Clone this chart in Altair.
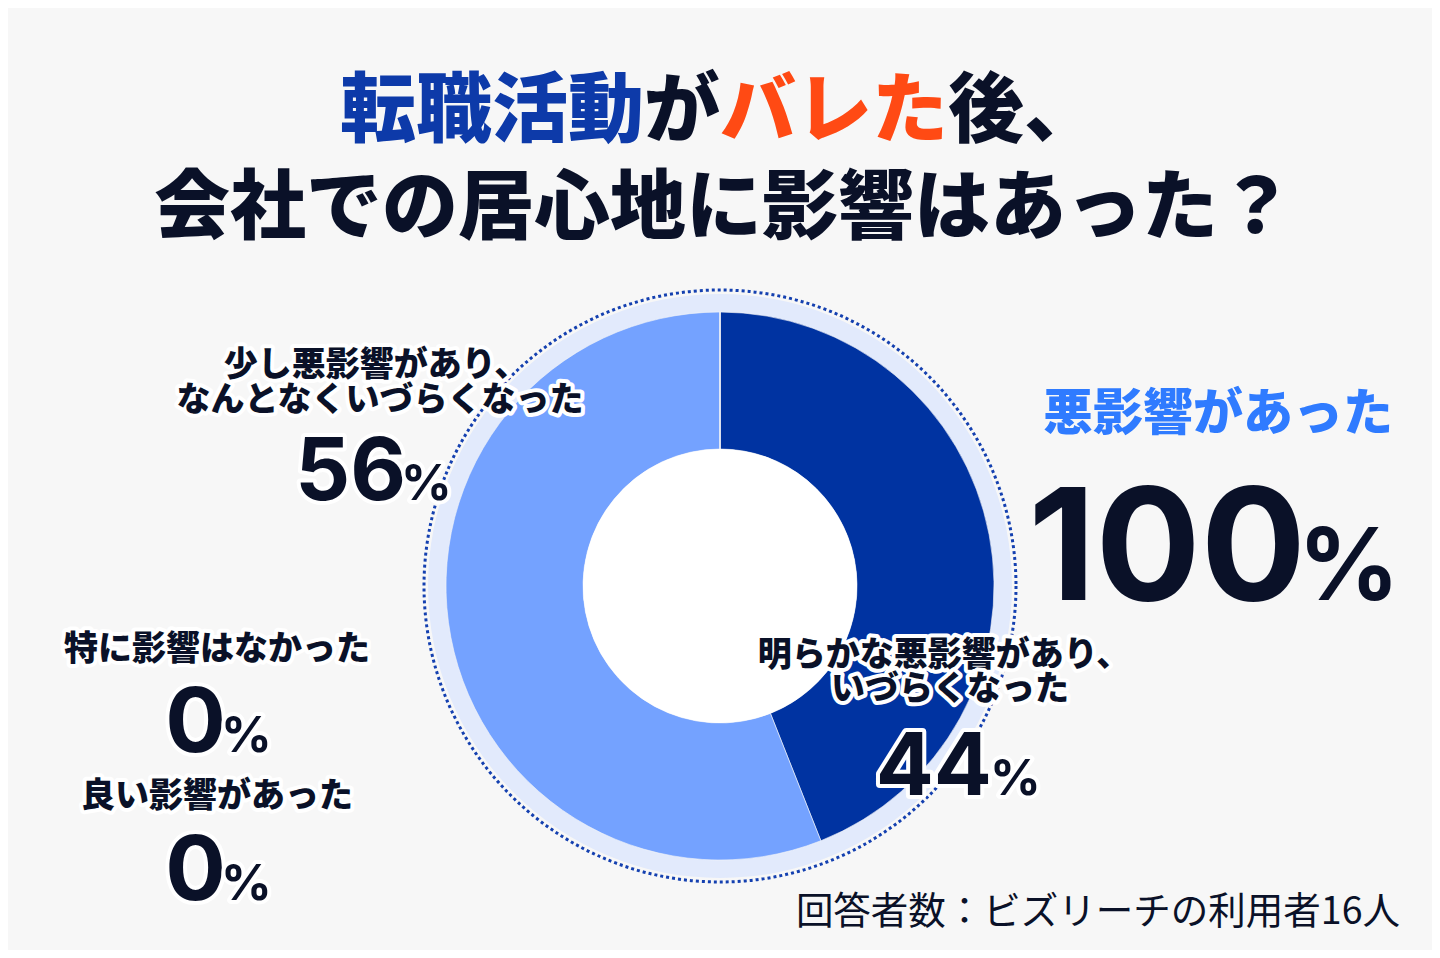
import math
import altair as alt
import pandas as pd

# ---------------- data ----------------
categories = [
    "明らかな悪影響があり、いづらくなった",
    "少し悪影響があり、なんとなくいづらくなった",
    "特に影響はなかった",
    "良い影響があった",
]
values = [44, 56, 0, 0]
slice_colors = ["#0033a1", "#74a2ff", "#b0c8ff", "#d0defc"]

title_parts = ["転職活動", "が", "バレた", "後、"]
title_colors = ["#0d3aa9", "#0a1128", "#ff4a14", "#0a1128"]
title_line2 = "会社での居心地に影響はあった？"

label_44 = ["明らかな悪影響があり、", "いづらくなった"]
label_56 = ["少し悪影響があり、", "なんとなくいづらくなった"]
label_none = ["特に影響はなかった"]
label_good = ["良い影響があった"]
headline = "悪影響があった"
headline_value = 100
footnote = "回答者数：ビズリーチの利用者16人"

# ---------------- layout helpers ----------------
W, H = 1424, 942
OFF = 8  # page margin
CX, CY = 720 - OFF, 586 - OFF
INK = "#0a1128"
JP = "Noto Sans CJK JP"
NUM = "Inter"

one = pd.DataFrame({"k": [1]})


def txt(s, sx, sy, size, color=INK, align="center", baseline="middle",
        font=JP, weight=900, halo=False):
    df = pd.DataFrame({"t": [s]})
    enc = dict(text="t:N", x=alt.value(sx - OFF), y=alt.value(sy - OFF))
    layers = []
    if halo:
        layers.append(
            alt.Chart(df).mark_text(
                align=align, baseline=baseline, font=font, fontWeight=weight,
                fontSize=size, fill="white", stroke="white", strokeWidth=8,
                strokeJoin="round",
            ).encode(**enc)
        )
    layers.append(
        alt.Chart(df).mark_text(
            align=align, baseline=baseline, font=font, fontWeight=weight,
            fontSize=size, fill=color,
        ).encode(**enc)
    )
    return layers


def pct(v, sx, base_y, dsize, psize, gap=-3, halo=True):
    return (txt(str(v), sx, base_y, dsize, align="right", baseline="alphabetic",
                font=NUM, weight=700, halo=halo)
            + txt("%", sx + gap, base_y, psize, align="left", baseline="alphabetic",
                  font=NUM, weight=700, halo=halo))


# ---------------- donut ----------------
donut_df = pd.DataFrame({"cat": categories, "value": values,
                         "order": list(range(len(categories)))})

ring = alt.Chart(one).mark_arc(
    radius=292, radius2=270, theta=0, theta2=2 * math.pi, color="#e2eafc"
).encode(x=alt.value(CX), y=alt.value(CY))

dots = alt.Chart(one).mark_point(
    shape="circle", size=(2 * 296) ** 2, filled=False, stroke="#1440b0",
    strokeWidth=3, strokeDash=[3, 3], opacity=1
).encode(x=alt.value(CX), y=alt.value(CY))

donut = alt.Chart(donut_df).mark_arc(
    radius=274, radius2=137, stroke="#f7f7f7", strokeWidth=0.6
).encode(
    theta=alt.Theta("value:Q", stack=True),
    order=alt.Order("order:Q"),
    color=alt.Color("cat:N", scale=alt.Scale(domain=categories, range=slice_colors),
                    legend=None),
    x=alt.value(CX), y=alt.value(CY),
)

hole = alt.Chart(one).mark_arc(
    radius=137, theta=0, theta2=2 * math.pi, color="white"
).encode(x=alt.value(CX), y=alt.value(CY))

# ---------------- texts ----------------
layers = [ring, dots, donut, hole]

# title line 1 (mixed colours), each char cell = font size
TS = 76
x0 = 340
for part, col in zip(title_parts, title_colors):
    layers += txt(part, x0, 113, TS, color=col, align="left")
    x0 += TS * len(part)
layers += txt(title_line2, 724, 210, TS)

# 56% label
layers += txt(label_56[0], 376, 366, 34, halo=True)
layers += txt(label_56[1], 380, 401, 34, halo=True)
layers += pct(values[1], 406, 500, 86, 50, gap=-5)

# 44% label
layers += txt(label_44[0], 944, 656, 34, halo=True)
layers += txt(label_44[1], 950, 690, 34, halo=True)
layers += pct(values[0], 992, 795, 86, 50, gap=-2)

# 0% labels
layers += txt(label_none[0], 217, 650, 34, halo=True)
layers += pct(values[2], 226, 752, 90, 50, gap=-5)
layers += txt(label_good[0], 217, 797, 34, halo=True)
layers += pct(values[3], 226, 900, 90, 50, gap=-5)

# headline
layers += txt(headline, 1218, 415, 50, color="#2f7bff")
layers += pct(headline_value, 1306, 600, 156, 100, gap=-8, halo=False)

# footnote
layers += txt(footnote, 1400, 913, 37.5, align="right", weight=400)

chart = alt.layer(*layers).properties(
    width=W, height=H, padding=0, autosize=alt.AutoSizeParams(type="none"),
    background="#f7f7f7",
).configure_view(stroke=None)

chart.save("out.html", embed_options={"renderer": "svg", "actions": False})
